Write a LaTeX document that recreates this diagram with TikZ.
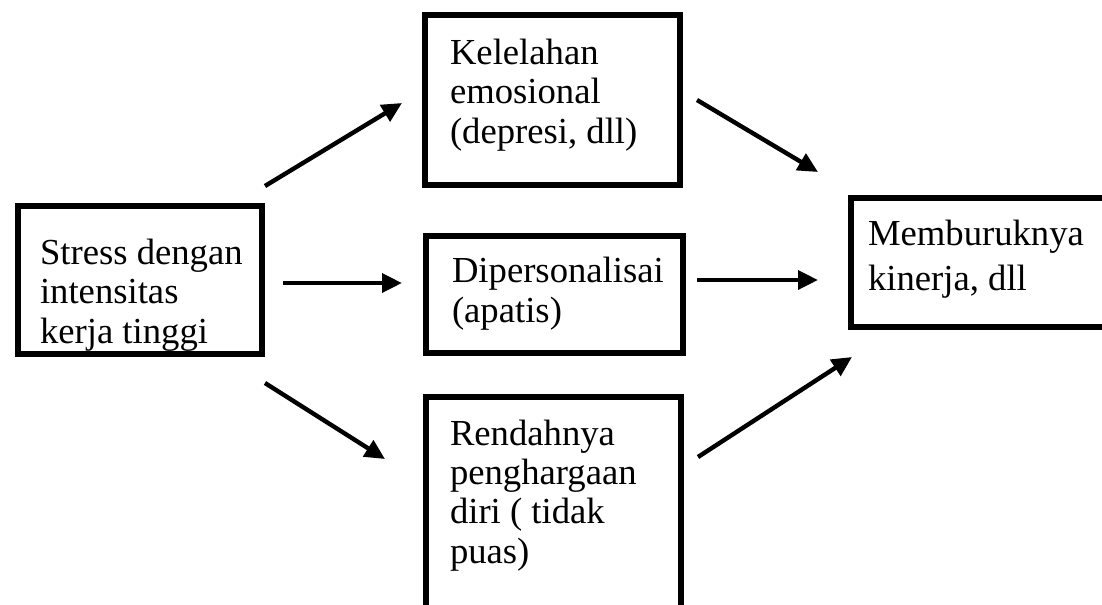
\documentclass[tikz,border=0pt]{standalone}
\usepackage{fontspec}
\setmainfont{Liberation Serif}
\usetikzlibrary{arrows.meta}
\tikzset{
  boxframe/.style={draw=black, line width=4.5pt, rectangle, inner sep=0pt, outer sep=0pt},
  boxtext/.style={anchor=base west, inner sep=0pt, outer sep=0pt, align=left,
    font=\fontsize{27.5pt}{29.5pt}\selectfont},
  conn/.style={line width=3.3pt, -{Triangle[length=15pt,width=14pt]}}
}
\begin{document}
\begin{tikzpicture}[x=0.75pt,y=-0.75pt]
\useasboundingbox (0,0) rectangle (1102,604);
\begin{scope}
\clip (0,0) rectangle (1102,604);
% boxes (centres of the frame lines, in px)
\node[boxframe, minimum width=183pt, minimum height=111pt] (stress) at (140,280) {};
\node[boxframe, minimum width=191.25pt, minimum height=127.5pt] (lelah) at (552.5,100) {};
\node[boxframe, minimum width=192.75pt, minimum height=87.75pt] (diper) at (554.5,294.5) {};
\node[boxframe, minimum width=191.25pt, minimum height=167.25pt] (rendah) at (553.5,508.5) {};
\node[boxframe, minimum width=201.75pt, minimum height=96.75pt] (buruk) at (985.5,262.5) {};
\end{scope}
% texts (anchored at the baseline of their last line)
\node[boxtext] (tstress) at (40,343) {Stress dengan\\intensitas\\kerja tinggi};
\node[boxtext] (tlelah) at (450,143) {Kelelahan\\emosional\\(depresi, dll)};
\node[boxtext] (tdiper) at (452,322) {Dipersonalisai\\(apatis)};
\node[boxtext] (trendah) at (450,563) {Rendahnya\\penghargaan\\diri ( tidak\\puas)};
\node[boxtext, font=\fontsize{27.5pt}{33.75pt}\selectfont] (tburuk) at (868,290) {Memburuknya\\kinerja, dll};
% connector end points
\coordinate (a1s) at (265,186); \coordinate (a1e) at (402,103);
\coordinate (a2s) at (283,283); \coordinate (a2e) at (402,283);
\coordinate (a3s) at (265,383); \coordinate (a3e) at (385,459);
\coordinate (a4s) at (697,100); \coordinate (a4e) at (818,172);
\coordinate (a5s) at (697,280); \coordinate (a5e) at (818,280);
\coordinate (a6s) at (698,457); \coordinate (a6e) at (852,357);
\draw[conn] (a1s) -- (a1e);
\draw[conn] (a2s) -- (a2e);
\draw[conn] (a3s) -- (a3e);
\draw[conn] (a4s) -- (a4e);
\draw[conn] (a5s) -- (a5e);
\draw[conn] (a6s) -- (a6e);
\end{tikzpicture}
\end{document}
